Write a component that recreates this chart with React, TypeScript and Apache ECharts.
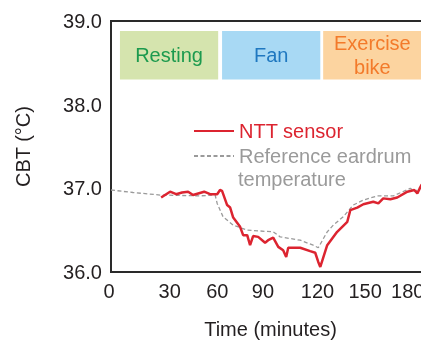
import React, { useEffect, useRef } from "react";
import * as echarts from "echarts";

// NTT sensor (red line): time in minutes, CBT in °C
const nttMinutes = [29.7, 35.0, 38.6, 42.1, 45.7, 48.6, 55.2, 58.7, 62.9, 64.6, 65.8, 68.8, 70.6, 72.4, 76.5, 78.3, 80.7, 82.4, 84.2, 87.2, 91.3, 93.1, 96.1, 99.1, 102.0, 103.8, 105.0, 112.1, 118.0, 121.0, 122.8, 124.0, 125.7, 128.1, 134.0, 140.0, 141.8, 145.9, 149.5, 155.4, 158.4, 161.3, 165.5, 169.6, 175.6, 179.7, 181.5, 183.9, 186.2];
const nttTemp = [36.89, 36.96, 36.93, 36.95, 36.96, 36.92, 36.96, 36.93, 36.93, 36.98, 36.97, 36.8, 36.77, 36.65, 36.54, 36.44, 36.44, 36.32, 36.43, 36.42, 36.35, 36.38, 36.41, 36.3, 36.26, 36.18, 36.29, 36.29, 36.25, 36.23, 36.12, 36.06, 36.17, 36.32, 36.48, 36.6, 36.74, 36.77, 36.81, 36.84, 36.82, 36.88, 36.87, 36.89, 36.96, 36.98, 36.94, 37.04, 37.06];

// Reference eardrum temperature (grey dashed line)
const refMinutes = [0, 13.0, 29.1, 52.8, 61.7, 62.9, 66.4, 72.4, 80.7, 96.1, 100.2, 112.1, 119.8, 122.8, 128.1, 131.7, 137.6, 143.5, 149.5, 157.8, 167.3, 177.3, 180.3, 183.9, 186.2];
const refTemp = [36.98, 36.95, 36.92, 36.91, 36.92, 36.82, 36.66, 36.56, 36.5, 36.48, 36.42, 36.38, 36.32, 36.29, 36.48, 36.56, 36.66, 36.8, 36.86, 36.91, 36.91, 37.0, 36.96, 37.03, 37.05];

// Phases (boxes at top)
const phaseNames = ["Resting", "Fan", "Exercise\nbike"];
const phaseStart = [5.3, 65.8, 125.7];
const phaseEnd = [63.5, 124.0, 184.0];
const phaseFill = ["#d5e4ae", "#a8d9f4", "#fcd4a0"];
const phaseText = ["#1c9a4e", "#1f78c0", "#f37a2a"];

const xTicks = [0, 30, 60, 90, 120, 150, 180];
const yTicks = [36.0, 37.0, 38.0, 39.0];

// small horizontal nudges of the tick labels (px), as hand-placed in the source figure
const xLabelNudge: Record<string, number> = { "0": -2, "30": 8, "60": 5, "90": 0, "120": 4, "150": 1, "180": -7 };

const FONT = "Liberation Sans, Arial, Helvetica, sans-serif";

export default function App() {
  const ref = useRef<HTMLDivElement>(null);
  useEffect(() => {
    if (!ref.current) return;
    const chart = echarts.init(ref.current, null, { renderer: "svg" });
    const ntt = nttMinutes.map((m, i) => [m, nttTemp[i]]);
    const refData = refMinutes.map((m, i) => [m, refTemp[i]]);
    const areas = phaseNames.map((n, i) => [
      {
        name: n,
        xAxis: phaseStart[i],
        yAxis: 38.3,
        itemStyle: { color: phaseFill[i], opacity: 1 },
        label: { color: phaseText[i] },
      },
      { xAxis: phaseEnd[i], yAxis: 38.88 },
    ]);
    const rich: Record<string, any> = {};
    xTicks.forEach((t) => {
      const d = xLabelNudge[String(t)] || 0;
      rich["t" + t] = {
        fontSize: 20,
        color: "#231f20",
        fontFamily: FONT,
        padding: d >= 0 ? [0, 0, 0, 2 * d] : [0, -2 * d, 0, 0],
      };
    });
    chart.setOption({
      animation: false,
      textStyle: { fontFamily: FONT },
      grid: {
        left: 111,
        top: 21,
        right: -9,
        bottom: 72,
        outerBoundsMode: "none",
        containLabel: false,
        show: true,
        borderColor: "#2a2a2a",
        borderWidth: 2,
        backgroundColor: "transparent",
      },
      legend: {
        orient: "vertical",
        left: 193,
        top: 121,
        padding: 0,
        itemWidth: 40,
        itemHeight: 14,
        itemGap: 5,
        itemStyle: { opacity: 0 },
        textStyle: { fontSize: 20, fontFamily: FONT },
        data: [
          { name: "NTT sensor", textStyle: { color: "#dc2430" } },
          { name: "Reference eardrum", textStyle: { color: "#9a9a9a" } },
        ],
      },
      graphic: [
        {
          type: "text",
          left: 238,
          top: 169,
          style: {
            text: "temperature",
            fill: "#9a9a9a",
            font: `20px ${FONT}`,
          },
        },
      ],
      xAxis: {
        type: "value",
        min: 0,
        max: 189,
        interval: 30,
        name: "Time (minutes)",
        nameLocation: "middle",
        nameGap: 47,
        nameTextStyle: { fontSize: 20, color: "#231f20", fontFamily: FONT, verticalAlign: "top" },
        axisLine: { show: true, lineStyle: { color: "#2a2a2a", width: 2 } },
        axisTick: { show: false },
        splitLine: { show: false },
        axisLabel: {
          fontSize: 20,
          color: "#231f20",
          margin: 9,
          fontFamily: FONT,
          customValues: xTicks,
          formatter: (v: number) => `{t${v}|${v}}`,
          rich,
        },
      },
      yAxis: {
        type: "value",
        min: 36,
        max: 39,
        interval: 1,
        name: "CBT (°C)",
        nameLocation: "middle",
        nameGap: 78,
        nameRotate: 90,
        nameTextStyle: { fontSize: 20, color: "#231f20", fontFamily: FONT },
        axisLine: { show: true, lineStyle: { color: "#2a2a2a", width: 2 } },
        axisTick: { show: false },
        splitLine: { show: false },
        axisLabel: {
          fontSize: 20,
          color: "#231f20",
          margin: 9,
          fontFamily: FONT,
          customValues: yTicks,
          formatter: (v: number) => v.toFixed(1),
        },
      },
      series: [
        {
          name: "Reference eardrum",
          type: "line",
          data: refData,
          symbol: "none",
          z: 3,
          lineStyle: { color: "#9a9a9a", width: 1.3, type: [4, 2.5] },
          itemStyle: { color: "#9a9a9a" },
          markArea: {
            silent: true,
            z: 1,
            label: {
              show: true,
              position: "inside",
              fontSize: 20,
              lineHeight: 24,
              fontFamily: FONT,
            },
            data: areas,
          },
        },
        {
          name: "NTT sensor",
          type: "line",
          data: ntt,
          symbol: "none",
          z: 4,
          lineStyle: { color: "#dc2430", width: 2.5 },
          itemStyle: { color: "#dc2430" },
        },
      ],
    });
    return () => chart.dispose();
  }, []);
  return (
    <div
      ref={ref}
      style={{ position: "fixed", left: 0, top: 0, width: 421, height: 344 }}
    />
  );
}
